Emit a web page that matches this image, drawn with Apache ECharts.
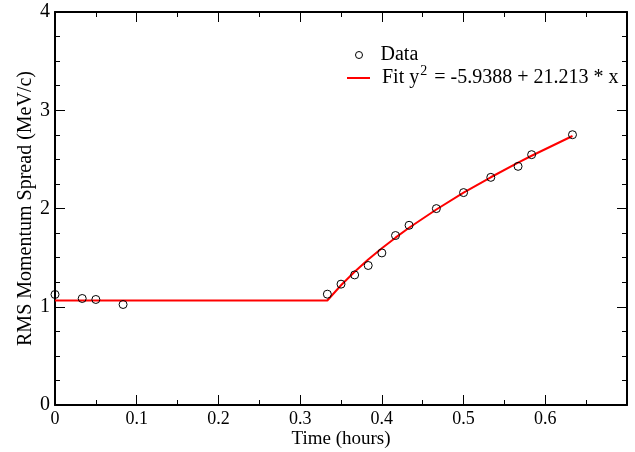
<!DOCTYPE html>
<html>
<head>
<meta charset="utf-8">
<script src="https://cdn.jsdelivr.net/npm/echarts@6/dist/echarts.min.js"></script>
<style>html,body{margin:0;padding:0;background:#fff}#c{width:635px;height:452px}</style>
</head>
<body>
<div id="c"></div>
<script>
// Data (hours, MeV/c)
var dataX = [0, 0.0333, 0.05, 0.0833, 0.3333, 0.35, 0.3667, 0.3833, 0.4, 0.4167, 0.4333, 0.4667, 0.5, 0.5333, 0.5667, 0.5833, 0.6333];
var dataY = [1.125, 1.084, 1.074, 1.023, 1.128, 1.230, 1.324, 1.420, 1.548, 1.725, 1.829, 1.999, 2.162, 2.317, 2.429, 2.548, 2.751];
// Fit curve
var fitX = [0, 0.3333, 0.35, 0.3667, 0.3833, 0.4, 0.4167, 0.4333, 0.4667, 0.5, 0.5333, 0.5667, 0.5833, 0.6333];
var fitY = [1.064, 1.064, 1.219, 1.356, 1.481, 1.596, 1.703, 1.804, 1.990, 2.161, 2.318, 2.466, 2.537, 2.738];
// Tick labels
var xTickLabels = ['0', '0.1', '0.2', '0.3', '0.4', '0.5', '0.6'];
var yTickLabels = ['0', '1', '2', '3', '4'];
var dataName = 'Data';
var fitName = 'Fit';
var fitLabelParts = ['Fit y', '2', ' = -5.9388 + 21.213 * x'];

var FONT = 'Liberation Serif';
function zip(a, b) { return a.map(function (v, i) { return [v, b[i]]; }); }

var axisLine = { show: true, onZero: false, lineStyle: { color: '#000', width: 2 } };
function xAxisCfg(pos, labels) {
  return {
    type: 'value', position: pos, min: 0, max: 0.7, interval: 0.1,
    axisLine: axisLine,
    axisTick: { show: true, inside: true, length: 10, lineStyle: { color: '#000', width: 1 } },
    minorTick: { show: true, splitNumber: 2, length: 5, lineStyle: { color: '#000', width: 1 } },
    splitLine: { show: false }, minorSplitLine: { show: false },
    axisLabel: labels ? {
      show: true, color: '#000', fontFamily: FONT, fontSize: 18, margin: 5,
      showMaxLabel: true,
      formatter: function (v) { var i = Math.round(v * 10); return i < xTickLabels.length ? xTickLabels[i] : ''; }
    } : { show: false },
    name: labels ? 'Time (hours)' : '',
    nameLocation: 'middle', nameGap: 25, nameMoveOverlap: false,
    nameTextStyle: { color: '#000', fontFamily: FONT, fontSize: 19 }
  };
}
function yAxisCfg(pos, labels) {
  return {
    type: 'value', position: pos, min: 0, max: 4, interval: 1,
    axisLine: axisLine,
    axisTick: { show: true, inside: true, length: 10, lineStyle: { color: '#000', width: 1 } },
    minorTick: { show: true, splitNumber: 4, length: 5, lineStyle: { color: '#000', width: 1 } },
    splitLine: { show: false }, minorSplitLine: { show: false },
    axisLabel: labels ? {
      show: true, color: '#000', fontFamily: FONT, fontSize: 20, margin: 5,
      formatter: function (v) { return yTickLabels[Math.round(v)]; }
    } : { show: false },
    name: labels ? 'RMS Momentum Spread (MeV/c)' : '',
    nameLocation: 'middle', nameGap: 19, nameMoveOverlap: false,
    nameTextStyle: { color: '#000', fontFamily: FONT, fontSize: 20 }
  };
}

var richN = { fontFamily: FONT, fontSize: 20, lineHeight: 20, color: '#000', verticalAlign: 'bottom' };
var richS = { fontFamily: FONT, fontSize: 14, lineHeight: 14, color: '#000', padding: [0, 2, 10, 1], verticalAlign: 'bottom' };

var chart = echarts.init(document.getElementById('c'), null, { renderer: 'canvas' });
chart.setOption({
  animation: false,
  backgroundColor: '#fff',
  grid: { left: 55, right: 8, top: 12, bottom: 47, containLabel: false, outerBoundsMode: 'none' },
  xAxis: [xAxisCfg('bottom', true), xAxisCfg('top', false)],
  yAxis: [yAxisCfg('left', true), yAxisCfg('right', false)],
  legend: [
    {
      data: [{ name: dataName, icon: 'circle', itemStyle: { color: 'transparent', borderColor: '#000', borderWidth: 1 } }],
      left: 355, top: 45, padding: 0, itemWidth: 23, itemHeight: 7,
      formatter: function (n) { return '{g| }{n|' + n + '}'; },
      textStyle: { rich: { g: { width: 5, fontFamily: FONT, fontSize: 20, lineHeight: 20, verticalAlign: 'bottom' }, n: richN } }
    },
    {
      data: [{ name: fitName, icon: 'rect', itemStyle: { color: '#ff0000' } }],
      left: 347, top: 64, padding: 0, itemWidth: 23, itemHeight: 2,
      formatter: function () { return '{g| }{n|' + fitLabelParts[0] + '}{s|' + fitLabelParts[1] + '}{n|' + fitLabelParts[2] + '}'; },
      textStyle: { rich: { g: { width: 7, fontFamily: FONT, fontSize: 20, lineHeight: 20, verticalAlign: 'bottom' }, n: richN, s: richS } }
    }
  ],
  series: [
    {
      name: fitName, type: 'line', xAxisIndex: 0, yAxisIndex: 0,
      data: zip(fitX, fitY), symbol: 'none', showSymbol: false, smooth: false,
      lineStyle: { color: '#ff0000', width: 2 }, itemStyle: { color: '#ff0000' }, z: 2
    },
    {
      name: dataName, type: 'scatter', xAxisIndex: 0, yAxisIndex: 0,
      data: zip(dataX, dataY), symbol: 'circle', symbolSize: 8,
      itemStyle: { color: 'transparent', borderColor: '#000', borderWidth: 1, opacity: 1 }, z: 3
    }
  ]
});
</script>
</body>
</html>
